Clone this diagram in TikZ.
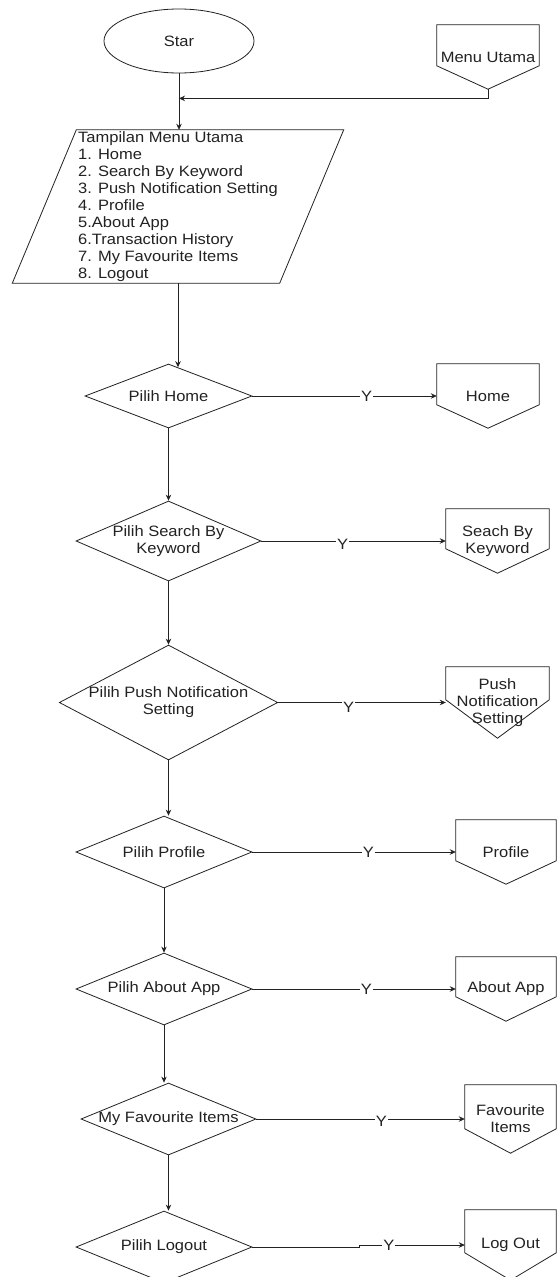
\documentclass[tikz,border=0pt]{standalone}
\usepackage{fontspec}
\setmainfont{Liberation Sans}[FakeStretch=1.1]
\usetikzlibrary{shapes.geometric,arrows.meta,calc}
\definecolor{ink}{HTML}{222222}
\tikzset{
  txt/.style={font=\fontsize{15}{17}\selectfont, text=ink},
  dec/.style={shape=diamond, draw=ink, line width=0.8pt, inner sep=0pt, txt, align=center},
  opbox/.style={draw=none, inner sep=0pt, txt, align=center},
  outline/.style={draw=ink, line width=0.8pt},
  arr/.style={draw=ink, line width=0.8pt, -{Stealth[length=6pt,width=5.5pt]}},
  lab/.style={fill=white, inner sep=1pt, txt}
}
\newcommand\offpg[2]{\draw[outline] (#1.north west) -- (#1.north east) -- ($(#1.north east)+(0,#2)$) -- (#1.south) -- ($(#1.north west)+(0,#2)$) -- cycle;}
\begin{document}
\begin{tikzpicture}[x=1pt,y=-1pt]
\fill[white] (0,0) rectangle (557,1277);
\useasboundingbox (0,0) rectangle (557,1277);

% start
\node[shape=ellipse, draw=ink, line width=0.8pt, minimum width=150pt, minimum height=64pt, inner sep=0pt, txt] (star) at (179,41) {Star};

% off-page Menu Utama
\node[opbox, minimum width=102pt, minimum height=64pt] (mu) at (488,57) {Menu Utama};
\offpg{mu}{41}
\coordinate (join) at ($(star.south)+(0,25)$);

% parallelogram
\node[draw=none, minimum width=267pt, minimum height=153pt, inner sep=0pt] (pg) at (178,206.5) {};
\draw[outline] ($(pg.north west)+(32,0)$) -- ($(pg.north east)+(32,0)$) -- ($(pg.south east)+(-32,0)$) -- ($(pg.south west)+(-32,0)$) -- cycle;
\node[txt, align=left, inner sep=0pt, anchor=west] (pgtext) at (78,207) {Tampilan Menu Utama\\1. Home\\2. Search By Keyword\\3. Push Notification Setting\\4. Profile\\5.About App\\6.Transaction History\\7. My Favourite Items\\8. Logout};

% decisions
\node[dec, minimum width=167pt, minimum height=64pt, aspect=2.6] (home) at (168.5,396) {Pilih Home};
\node[dec, minimum width=185pt, minimum height=80pt, aspect=2.3] (search) at (168.5,541) {Pilih Search By\\Keyword};
\node[dec, minimum width=212pt, minimum height=111pt, aspect=1.9] (push) at (168.5,702.5) {Pilih Push Notification\\Setting};
\node[dec, minimum width=176pt, minimum height=72pt, aspect=2.45] (profile) at (164,852) {Pilih Profile};
\node[dec, minimum width=176pt, minimum height=72pt, aspect=2.45] (about) at (164,989) {Pilih About App};
\node[dec, minimum width=175pt, minimum height=72pt, aspect=2.45] (fav) at (168.5,1119) {My Favourite Items};
\node[dec, minimum width=176pt, minimum height=72pt, aspect=2.45] (logout) at (164,1247) {Pilih Logout};

% off-page targets
\node[opbox, minimum width=102pt, minimum height=64pt] (ohome) at (488,396) {Home};
\offpg{ohome}{41}
\node[opbox, minimum width=103pt, minimum height=64pt] (osearch) at (497.5,541) {Seach By\\Keyword};
\offpg{osearch}{40}
\node[opbox, minimum width=103pt, minimum height=71pt] (opush) at (497.5,702.5) {Push\\Notification\\Setting};
\offpg{opush}{33}
\node[opbox, minimum width=100pt, minimum height=64pt] (oprofile) at (506,852) {Profile};
\offpg{oprofile}{41}
\node[opbox, minimum width=100pt, minimum height=64pt] (oabout) at (506,989) {About App};
\offpg{oabout}{40}
\node[opbox, minimum width=91pt, minimum height=68pt] (ofav) at (510.5,1119) {Favourite\\Items};
\offpg{ofav}{44}
\node[opbox, minimum width=91pt, minimum height=70pt] (ologout) at (510.5,1245) {Log Out};
\offpg{ologout}{43}

% connectors
\draw[arr] (star.south) -- (star.south |- pg.north);
\draw[arr] (mu.south) |- (join);
\draw[arr] (pg.south) -- (pg.south |- home.72);
\draw[arr] (home.south) -- (search.north);
\draw[arr] (search.south) -- (push.north);
\draw[arr] (push.south) -- (push.south |- profile.north);
\draw[arr] (profile.south) -- (about.north);
\draw[arr] (about.south) -- (about.south |- fav.north);
\draw[arr] (fav.south) -- (fav.south |- logout.north);

\draw[arr] (home.east) -- node[lab, pos=0.62] {Y} (ohome.west);
\draw[arr] (search.east) -- node[lab, pos=0.44, yshift=-3pt] {Y} (osearch.west);
\draw[arr] (push.east) -- node[lab, pos=0.42, yshift=-5pt] {Y} (opush.west);
\draw[arr] (profile.east) -- node[lab, pos=0.57] {Y} (oprofile.west);
\draw[arr] (about.east) -- node[lab, pos=0.56] {Y} (oabout.west);
\draw[arr] (fav.east) -- node[lab, pos=0.6, yshift=-2pt] {Y} (ofav.west);
\draw[arr] (logout.east) -- ++(107,0) |- node[lab, pos=0.64] {Y} (ologout.west);
\end{tikzpicture}
\end{document}
